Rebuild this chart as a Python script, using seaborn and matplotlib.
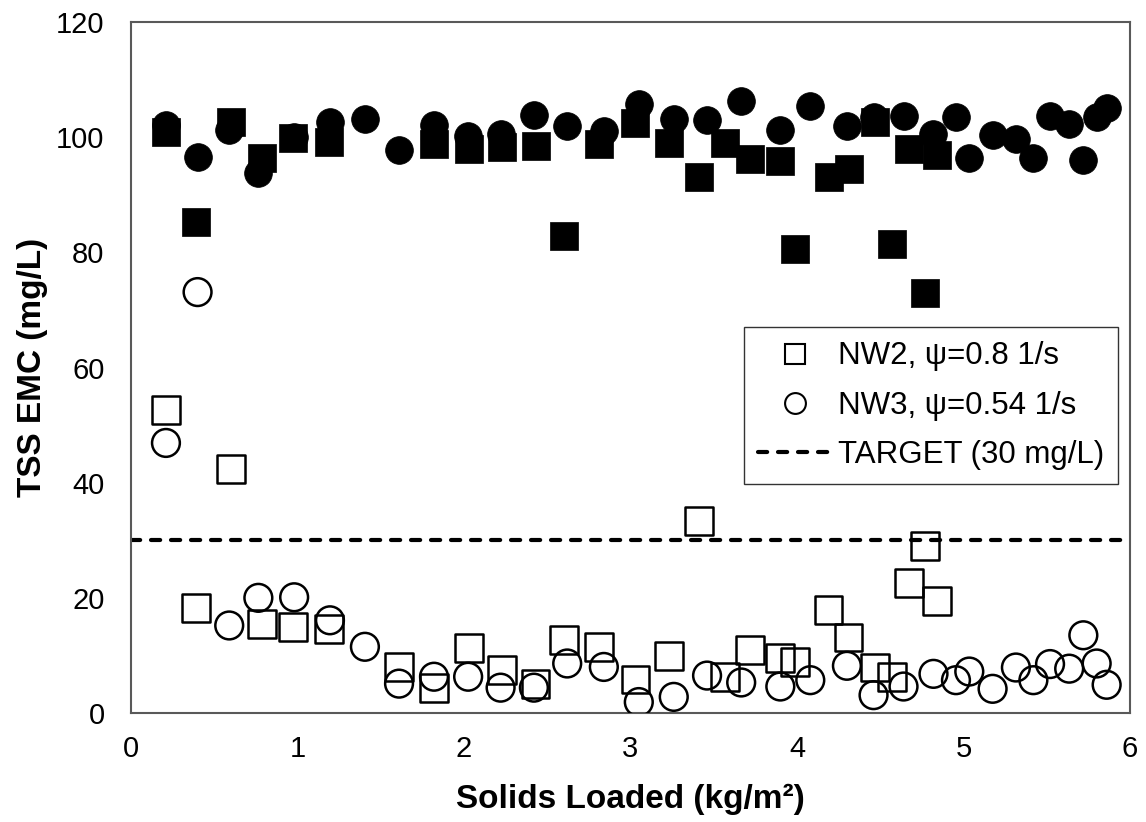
import numpy as np
import seaborn as sns
import matplotlib.pyplot as plt
from matplotlib.lines import Line2D

# NW2, psi = 0.8 1/s  (filled = influent, open = effluent)
nw2_solids = [0.21, 0.39, 0.60, 0.785, 0.975, 1.19, 1.61, 1.82, 2.03, 2.23, 2.43, 2.60, 2.81, 3.03,
              3.23, 3.41, 3.57, 3.72, 3.90, 3.99, 4.19, 4.31, 4.47, 4.57, 4.675, 4.77, 4.84]
nw2_influent = [100.9, 85.2, 102.7, 96.3, 99.8, 99.2, np.nan, 98.9, 98.0, 98.3, 98.4, 82.9, 98.8, 102.4,
                99.0, 93.1, 99.0, 96.2, 95.9, 80.6, 93.1, 94.4, 102.7, 81.5, 98.0, 73.0, 96.9]
nw2_effluent = [52.6, 18.2, 42.4, 15.5, 15.0, 14.6, 8.0, 4.4, 11.3, 7.5, 5.1, 12.7, 11.4, 5.8,
                9.9, 33.3, 6.3, 10.9, 9.5, 8.8, 17.9, 13.1, 7.9, 6.3, 22.6, 29.0, 19.4]

# NW3, psi = 0.54 1/s
nw3_solids = [0.21, 0.40, 0.59, 0.765, 0.98, 1.195, 1.405, 1.61, 1.82, 2.025, 2.22, 2.42, 2.62, 2.84,
              3.05, 3.26, 3.46, 3.665, 3.90, 4.08, 4.30, 4.46, 4.64, 4.82, 4.955, 5.035, 5.175,
              5.315, 5.42, 5.52, 5.635, 5.72, 5.80, 5.86]
nw3_influent = [102.1, 96.5, 101.2, 93.7, 100.1, 102.7, 103.2, 97.7, 102.1, 100.2, 100.5, 103.9, 101.9, 101.1,
                105.8, 103.1, 102.9, 106.2, 101.2, 105.4, 101.9, 103.5, 103.6, 100.6, 103.5, 96.4, 100.3,
                99.6, 96.4, 103.6, 102.3, 96.1, 103.5, 105.1]
nw3_effluent = [46.9, 73.1, 15.2, 20.0, 20.1, 16.1, 11.5, 5.1, 6.3, 6.3, 4.4, 4.4, 8.6, 8.0,
                1.9, 2.8, 6.5, 5.3, 4.6, 5.7, 8.2, 3.1, 4.6, 6.8, 5.7, 7.2, 4.2,
                7.9, 5.7, 8.5, 7.7, 13.5, 8.6, 4.9]

target = 30
x_ticks = [0, 1, 2, 3, 4, 5, 6]
y_ticks = [0, 20, 40, 60, 80, 100, 120]

legend_labels = ['NW2, ψ=0.8 1/s', 'NW3, ψ=0.54 1/s', 'TARGET (30 mg/L)']


def main():
    sns.set_style('white')
    plt.rcParams['font.family'] = ['Liberation Sans', 'DejaVu Sans']
    for key in ['text.color', 'axes.labelcolor', 'xtick.color', 'ytick.color']:
        plt.rcParams[key] = 'black'

    fig = plt.figure(figsize=(11.46, 8.22), dpi=100)
    ax = fig.add_axes([0.1143, 0.1326, 0.8717, 0.8406])

    size = 400
    sns.scatterplot(x=nw2_solids, y=nw2_influent, marker='s', s=size, color='black',
                    edgecolor='black', linewidth=0.5, ax=ax, zorder=3)
    sns.scatterplot(x=nw3_solids, y=nw3_influent, marker='o', s=size, color='black',
                    edgecolor='black', linewidth=0.5, ax=ax, zorder=3)
    sns.scatterplot(x=nw2_solids, y=nw2_effluent, marker='s', s=size, facecolor='none',
                    edgecolor='black', linewidth=1.8, ax=ax, zorder=3)
    sns.scatterplot(x=nw3_solids, y=nw3_effluent, marker='o', s=size, facecolor='none',
                    edgecolor='black', linewidth=1.8, ax=ax, zorder=3)

    ax.axhline(target, color='black', linewidth=3, linestyle=(0, (2.2, 2.6)),
               dash_capstyle='round', zorder=2)

    ax.set_xlim(0, 6)
    ax.set_ylim(0, 120)
    ax.set_xticks(x_ticks)
    ax.set_yticks(y_ticks)
    ax.tick_params(axis='both', length=0, labelsize=21)
    ax.tick_params(axis='y', pad=19)
    ax.tick_params(axis='x', pad=16)

    for sp in ax.spines.values():
        sp.set_visible(True)
        sp.set_color('#595959')
        sp.set_linewidth(1.5)

    ax.set_xlabel('Solids Loaded (kg/m²)', fontsize=24, fontweight='bold', labelpad=15)
    ax.set_ylabel('TSS EMC (mg/L)', fontsize=24, fontweight='bold', labelpad=6)

    handles = [
        Line2D([], [], marker='s', linestyle='none', markersize=14, markerfacecolor='none',
               markeredgecolor='black', markeredgewidth=1.5),
        Line2D([], [], marker='o', linestyle='none', markersize=15, markerfacecolor='none',
               markeredgecolor='black', markeredgewidth=1.5),
        Line2D([], [], color='black', linewidth=3, linestyle=(0, (2.2, 2.6)), dash_capstyle='round'),
    ]
    leg = ax.legend(handles, legend_labels, loc='lower right', bbox_to_anchor=(0.988, 0.331),
                    fontsize=22.5, frameon=True, fancybox=False, edgecolor='black',
                    handlelength=2.4, handletextpad=0.15, labelspacing=0.62, borderpad=0.45,
                    borderaxespad=0)
    leg.get_frame().set_linewidth(1.0)

    fig.savefig('out.png', dpi=100)
    plt.close(fig)


if __name__ == "__main__":
    main()
